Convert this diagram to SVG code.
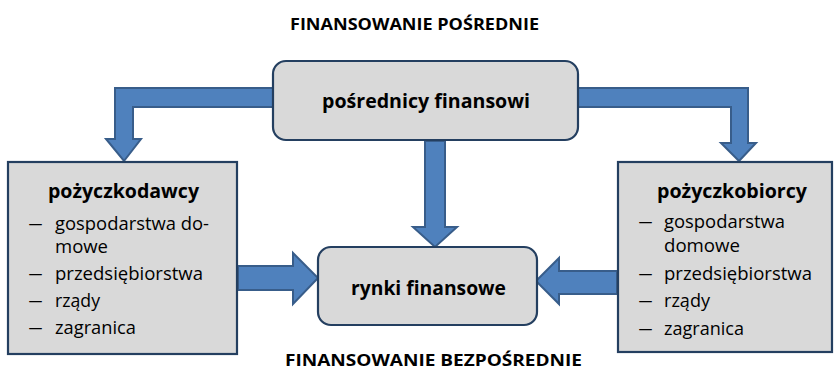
<svg xmlns="http://www.w3.org/2000/svg" width="834" height="372" viewBox="0 0 834 372">
<style>
.box{fill:#d9d9d9;stroke:#243f60;stroke-width:2.2}
.arr{fill:#4f81bd;stroke:#385d8a;stroke-width:2;stroke-linejoin:miter}
text{font-family:"Open Sans","Liberation Sans",sans-serif;fill:#000}
.title{font-size:16.5px;font-weight:bold}
.head{font-size:20px;font-weight:bold}
.item{font-size:18.5px}
</style>
<rect width="834" height="372" fill="#fff"/>
<text class="title" x="290" y="30" textLength="249" lengthAdjust="spacingAndGlyphs">FINANSOWANIE POŚREDNIE</text>
<text class="title" x="285" y="366" textLength="297" lengthAdjust="spacingAndGlyphs">FINANSOWANIE BEZPOŚREDNIE</text>
<g id="connectors">
<polygon class="arr" points="274,88 115,88 115,139 106,139 124,161 141,139 133,139 133,107 274,107"/>
<polygon class="arr" points="577,88 748,88 748,143 756,143 739,161 721,143 731,143 731,107 577,107"/>
<polygon class="arr" points="425,141 445,141 445,227 457,227 435,247 413,227 425,227"/>
<polygon class="arr" points="238,266 293,266 293,253 318,278 293,304 293,290 238,290"/>
<polygon class="arr" points="617,271 559,271 559,258 536,281 559,304 559,294 617,294"/>
</g>
<g id="posrednicy">
<rect class="box" x="273" y="61" width="305" height="79" rx="13"/>
<text class="head" x="322" y="108" textLength="208" lengthAdjust="spacingAndGlyphs">pośrednicy finansowi</text>
</g>
<g id="rynki">
<rect class="box" x="318" y="247" width="219" height="78" rx="13"/>
<text class="head" x="351" y="295" textLength="155" lengthAdjust="spacingAndGlyphs">rynki finansowe</text>
</g>
<g id="pozyczkodawcy">
<rect class="box" x="8" y="162" width="229" height="192"/>
<text class="head" x="48" y="198" textLength="151" lengthAdjust="spacingAndGlyphs">pożyczkodawcy</text>
<g class="item">
<text x="28" y="230" textLength="15" lengthAdjust="spacingAndGlyphs">–</text>
<text x="55" y="230" textLength="154" lengthAdjust="spacingAndGlyphs">gospodarstwa do-</text>
<text x="55" y="253" textLength="53" lengthAdjust="spacingAndGlyphs">mowe</text>
<text x="28" y="280" textLength="15" lengthAdjust="spacingAndGlyphs">–</text>
<text x="55" y="280" textLength="148" lengthAdjust="spacingAndGlyphs">przedsiębiorstwa</text>
<text x="28" y="307" textLength="15" lengthAdjust="spacingAndGlyphs">–</text>
<text x="55" y="307" textLength="45" lengthAdjust="spacingAndGlyphs">rządy</text>
<text x="28" y="334" textLength="15" lengthAdjust="spacingAndGlyphs">–</text>
<text x="55" y="334" textLength="81" lengthAdjust="spacingAndGlyphs">zagranica</text>
</g>
</g>
<g id="pozyczkobiorcy">
<rect class="box" x="618" y="162" width="214" height="190"/>
<text class="head" x="657" y="198" textLength="150" lengthAdjust="spacingAndGlyphs">pożyczkobiorcy</text>
<g class="item">
<text x="638" y="228" textLength="15" lengthAdjust="spacingAndGlyphs">–</text>
<text x="664" y="228" textLength="121" lengthAdjust="spacingAndGlyphs">gospodarstwa</text>
<text x="664" y="252" textLength="76" lengthAdjust="spacingAndGlyphs">domowe</text>
<text x="638" y="280" textLength="15" lengthAdjust="spacingAndGlyphs">–</text>
<text x="664" y="280" textLength="148" lengthAdjust="spacingAndGlyphs">przedsiębiorstwa</text>
<text x="638" y="307" textLength="15" lengthAdjust="spacingAndGlyphs">–</text>
<text x="664" y="307" textLength="46" lengthAdjust="spacingAndGlyphs">rządy</text>
<text x="638" y="335" textLength="15" lengthAdjust="spacingAndGlyphs">–</text>
<text x="664" y="335" textLength="80" lengthAdjust="spacingAndGlyphs">zagranica</text>
</g>
</g>
</svg>
